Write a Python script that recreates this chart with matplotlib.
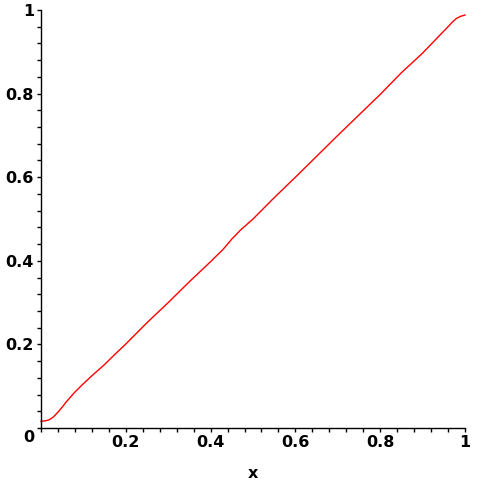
import numpy as np
import matplotlib
matplotlib.use("Agg")
import matplotlib.pyplot as plt
from matplotlib.ticker import MultipleLocator, FuncFormatter

# curve
x_vals = [0.0, 0.01, 0.02, 0.03, 0.04, 0.05, 0.06, 0.08, 0.10, 0.12, 0.15,
          0.17, 0.20, 0.25, 0.30, 0.35, 0.40, 0.43, 0.45, 0.47, 0.50, 0.55,
          0.60, 0.65, 0.70, 0.75, 0.80, 0.85, 0.88, 0.90, 0.92, 0.94, 0.96,
          0.97, 0.98, 0.99, 1.0]
y_vals = [0.016, 0.017, 0.020, 0.027, 0.038, 0.050, 0.063, 0.086, 0.106, 0.125, 0.152,
          0.172, 0.201, 0.252, 0.300, 0.350, 0.398, 0.428, 0.452, 0.473, 0.500, 0.551,
          0.600, 0.650, 0.700, 0.749, 0.798, 0.850, 0.878, 0.897, 0.918, 0.939, 0.960,
          0.971, 0.980, 0.985, 0.988]

major_ticks = [0.2, 0.4, 0.6, 0.8, 1.0]

fig = plt.figure(figsize=(4.83, 4.83), dpi=100)
ax = fig.add_axes([41 / 483, 1 - 428 / 483, 424 / 483, 418 / 483])

ax.plot(x_vals, y_vals, color='#ff0000', lw=1.0, clip_on=False)

ax.set_xlim(0, 1)
ax.set_ylim(0, 1)
ax.spines['top'].set_visible(False)
ax.spines['right'].set_visible(False)
for s in ('left', 'bottom'):
    ax.spines[s].set_linewidth(1.0)

ax.set_xticks(major_ticks)
ax.set_yticks(major_ticks)
ax.xaxis.set_minor_locator(MultipleLocator(0.04))
ax.yaxis.set_minor_locator(MultipleLocator(0.04))
fmt = FuncFormatter(lambda v, p: '1' if abs(v - 1) < 1e-9 else ('%.1f' % v))
ax.xaxis.set_major_formatter(fmt)
ax.yaxis.set_major_formatter(fmt)
ax.tick_params(which='both', direction='out', length=3, width=1, labelsize=11.5, pad=2)
for lab in ax.get_xticklabels() + ax.get_yticklabels():
    lab.set_fontweight('bold')

ax.text(-0.028, -0.022, '0', transform=ax.transAxes, ha='center', va='center',
        fontsize=11.5, fontweight='bold')
fig.text(253 / 483, 1 - 474 / 483, 'x', ha='center', va='center',
         fontsize=11.5, fontweight='bold')

fig.savefig('out.png', dpi=100)
